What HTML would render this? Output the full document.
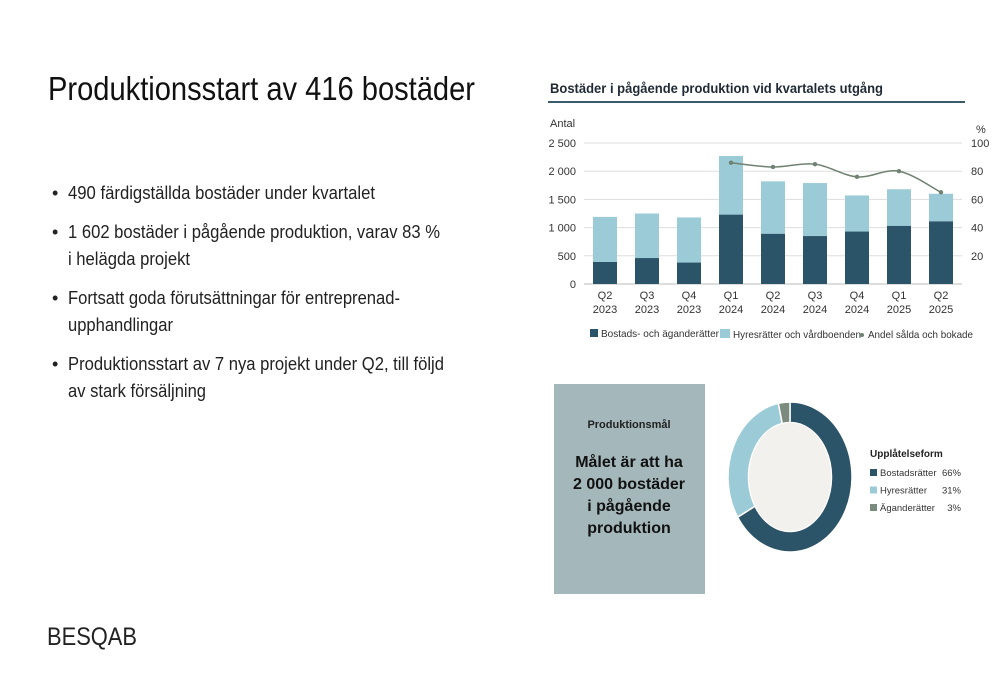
<!DOCTYPE html>
<html><head><meta charset="utf-8"><style>
html,body{margin:0;padding:0;background:#fff}
svg{display:block}
text{font-family:"Liberation Sans","DejaVu Sans",sans-serif}
</style></head><body>
<svg id="s" width="1000" height="685" viewBox="0 0 1000 685">
<text x="48" y="100" font-size="33" fill="#111" textLength="427" lengthAdjust="spacingAndGlyphs">Produktionsstart av 416 bostäder</text>
<g fill="#222" font-size="18">
<text x="52" y="199">•</text><text x="68" y="199" textLength="307" lengthAdjust="spacingAndGlyphs">490 färdigställda bostäder under kvartalet</text>
<text x="52" y="238">•</text><text x="68" y="238" textLength="372" lengthAdjust="spacingAndGlyphs">1 602 bostäder i pågående produktion, varav 83 %</text>
<text x="68" y="265" textLength="122" lengthAdjust="spacingAndGlyphs">i helägda projekt</text>
<text x="52" y="304">•</text><text x="68" y="304" textLength="332" lengthAdjust="spacingAndGlyphs">Fortsatt goda förutsättningar för entreprenad-</text>
<text x="68" y="331" textLength="105" lengthAdjust="spacingAndGlyphs">upphandlingar</text>
<text x="52" y="370">•</text><text x="68" y="370" textLength="376" lengthAdjust="spacingAndGlyphs">Produktionsstart av 7 nya projekt under Q2, till följd</text>
<text x="68" y="397" textLength="138" lengthAdjust="spacingAndGlyphs">av stark försäljning</text>
</g>
<text x="47" y="645" font-size="25" fill="#222" textLength="90" lengthAdjust="spacingAndGlyphs">BESQAB</text>

<text x="550" y="93" font-size="14" font-weight="bold" fill="#1f2a35" textLength="333" lengthAdjust="spacingAndGlyphs">Bostäder i pågående produktion vid kvartalets utgång</text>
<rect x="548" y="101" width="417" height="2" fill="#3b5a6a"/>
<text x="550" y="127" font-size="11" fill="#333">Antal</text>
<text x="976" y="133" font-size="11" fill="#333">%</text>
<g id="chart"></g>

<rect x="554" y="384" width="151" height="210" fill="#a4b7ba"/>
<text x="629" y="428" font-size="11" font-weight="bold" fill="#222" text-anchor="middle">Produktionsmål</text>
<g font-size="16" font-weight="bold" fill="#111" text-anchor="middle">
<text x="629" y="467">Målet är att ha</text><text x="629" y="489">2 000 bostäder</text><text x="629" y="511">i pågående</text><text x="629" y="533">produktion</text></g>
<g id="donut"></g>
<text x="870" y="457" font-size="10" font-weight="bold" fill="#222">Upplåtelseform</text>
<g id="dleg" font-size="9.5" fill="#333"></g>
</svg>
<script>
const categories=["Q2|2023","Q3|2023","Q4|2023","Q1|2024","Q2|2024","Q3|2024","Q4|2024","Q1|2025","Q2|2025"];
const darkValues=[390,460,380,1230,890,850,930,1030,1110];
const totalValues=[1190,1250,1180,2270,1820,1790,1570,1680,1600];
const soldShare=[null,null,null,86,83,85,76,80,65];
const leftTicks=[0,500,1000,1500,2000,2500];
const leftTickLabels=["0","500","1 000","1 500","2 000","2 500"];
const rightTicks=[20,40,60,80,100];
const donutLabels=["Bostadsrätter","Hyresrätter","Äganderätter"];
const donutValues=[66,31,3];
const NS="http://www.w3.org/2000/svg";
function mk(t,a,p){const e=document.createElementNS(NS,t);for(const k in a)e.setAttribute(k,a[k]);p.appendChild(e);return e;}
const g=document.getElementById('chart');
const x0=584,x1=962,yb=284,yt=143;
const y=v=>yb-(v/2500)*(yb-yt);
const y2=v=>yb-(v/100)*(yb-yt);
const step=(x1-x0)/categories.length;
const xc=i=>x0+step*(i+0.5);
leftTicks.forEach((t,i)=>{
 const l=mk('line',{x1:x0,x2:x1,y1:y(t),y2:y(t),stroke:i==0?'#bbb':'#ddd','stroke-width':1},g);
 
 
 const tx=mk('text',{x:576,y:y(t)+4,'font-size':11,fill:'#333','text-anchor':'end'},g);tx.textContent=leftTickLabels[i];
 
 
});
rightTicks.forEach(t=>{
 const tx=mk('text',{x:971,y:y2(t)+4,'font-size':11,fill:'#333'},g);tx.textContent=t;
 
 
});
categories.forEach((c,i)=>{
 const bw=24,x=xc(i)-bw/2;
 const b1=mk('rect',{x:x,y:y(totalValues[i]),width:bw,height:y(darkValues[i])-y(totalValues[i]),fill:'#9ccbd8'},g);
 
 
 const b2=mk('rect',{x:x,y:y(darkValues[i]),width:bw,height:yb-y(darkValues[i]),fill:'#2c5468'},g);
 
 
 const [a,b]=c.split('|');
 const t1=mk('text',{x:xc(i),y:299,'font-size':11,fill:'#333','text-anchor':'middle'},g);t1.textContent=a;
 
 
 const t2=mk('text',{x:xc(i),y:313,'font-size':11,fill:'#333','text-anchor':'middle'},g);t2.textContent=b;
});
const pts=[];soldShare.forEach((v,i)=>{if(v!=null)pts.push([xc(i),y2(v)]);});
let d='M'+pts[0].join(',');
for(let i=0;i<pts.length-1;i++){const p0=pts[i-1]||pts[i],p1=pts[i],p2=pts[i+1],p3=pts[i+2]||p2;
 d+=` C${p1[0]+(p2[0]-p0[0])/6},${p1[1]+(p2[1]-p0[1])/6} ${p2[0]-(p3[0]-p1[0])/6},${p2[1]-(p3[1]-p1[1])/6} ${p2[0]},${p2[1]}`;}
const ln=mk('path',{d:d,fill:'none',stroke:'#6f8272','stroke-width':1.5},g);


pts.forEach(p=>{const c=mk('circle',{cx:p[0],cy:p[1],r:2.2,fill:'#6f8272'},g);
 
 });
const lg=mk('g',{'font-size':10.5,fill:'#333'},g);


mk('rect',{x:590,y:329,width:8,height:8,fill:'#2c5468'},lg);
let t=mk('text',{x:601,y:337,textLength:118,lengthAdjust:'spacingAndGlyphs'},lg);t.textContent='Bostads- och äganderätter';
mk('rect',{x:720,y:329,width:10,height:9,fill:'#9ccbd8'},lg);
t=mk('text',{x:733,y:338,textLength:128,lengthAdjust:'spacingAndGlyphs'},lg);t.textContent='Hyresrätter och vårdboenden';
mk('circle',{cx:862,cy:335,r:2,fill:'#6f8272'},lg);
t=mk('text',{x:868,y:338,textLength:105,lengthAdjust:'spacingAndGlyphs'},lg);t.textContent='Andel sålda och bokade';
const dg=document.getElementById('donut');
const cx=790,cy=477,rx=62,ry=75,irx=41.5,iry=54.5;
const cols=['#2c5468','#9ccbd8','#7b8b7e'];
const tot=donutValues.reduce((a,b)=>a+b,0);let ang=0;
const P=(a,rx_,ry_)=>[cx+rx_*Math.sin(a),cy-ry_*Math.cos(a)];
donutValues.forEach((v,i)=>{
 const a0=ang,a1=ang+v/tot*2*Math.PI;ang=a1;
 const lg2=(a1-a0)>Math.PI?1:0;
 const [ax,ay]=P(a0,rx,ry),[bx,by]=P(a1,rx,ry),[ix,iy]=P(a1,irx,iry),[jx,jy]=P(a0,irx,iry);
 const p=mk('path',{d:`M${ax},${ay} A${rx},${ry} 0 ${lg2} 1 ${bx},${by} L${ix},${iy} A${irx},${iry} 0 ${lg2} 0 ${jx},${jy} Z`,fill:cols[i],stroke:'#fff','stroke-width':1.5},dg);
 
 
 const l=document.getElementById('dleg');
 const yy=476+i*17.5;
 mk('rect',{x:870,y:yy-7,width:7,height:7,fill:cols[i]},l);
 const a=mk('text',{x:880,y:yy},l);a.textContent=donutLabels[i];
 
 
 const b=mk('text',{x:961,y:yy,'text-anchor':'end'},l);b.textContent=v+'%';
});
mk('ellipse',{cx:cx,cy:cy,rx:irx-0.5,ry:iry-0.5,fill:'#f3f1ed'},dg);
</script>
</body></html>
